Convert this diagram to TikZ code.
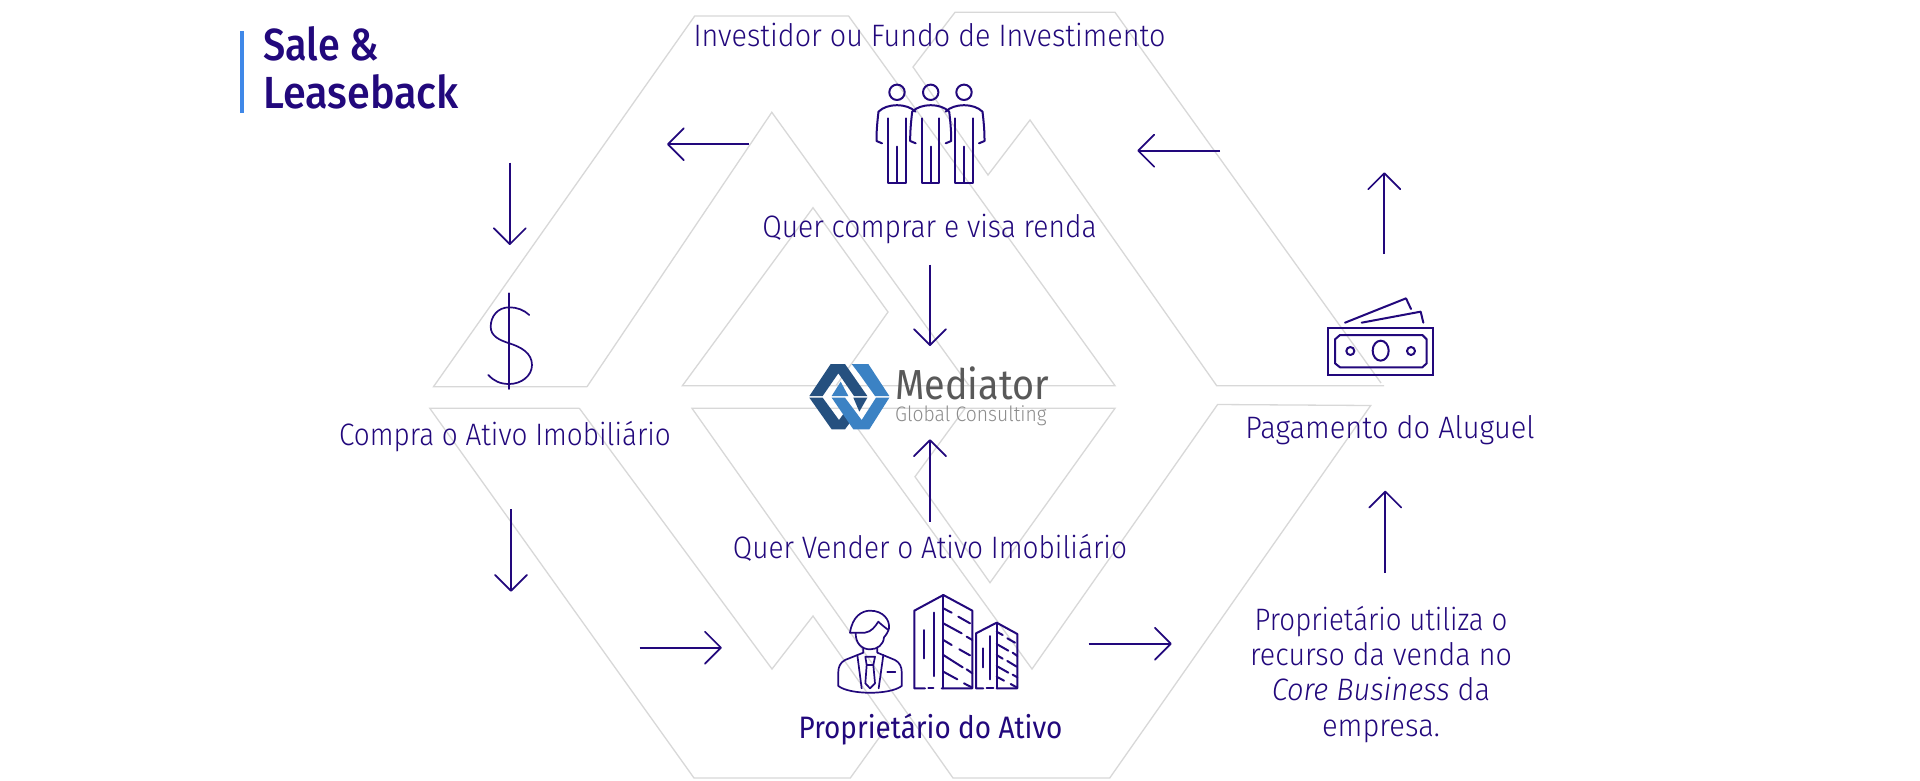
\documentclass[tikz,border=0pt]{standalone}
\usepackage{fontspec}
\usepackage{graphicx}
\usetikzlibrary{arrows.meta}
\setmainfont{Fira Sans Light}[ItalicFont={Fira Sans Light Italic}]
\newfontfamily\titlefont{Fira Sans Medium}
\newfontfamily\ownerfont{Fira Sans}
\newfontfamily\logofont{Fira Sans}
\newfontfamily\logolight{Fira Sans Light}
\newcommand{\sx}[2]{\scalebox{#1}[1]{#2}}
\definecolor{indigo}{HTML}{22087C}
\definecolor{gridgrey}{HTML}{D8D8D8}
\definecolor{barblue}{HTML}{3F88E8}
\definecolor{logodark}{HTML}{25507F}
\definecolor{logolightc}{HTML}{3B82C4}
\tikzset{
  bgline/.style={draw=gridgrey,line width=1.3pt,line join=miter},
  flow/.style={draw=indigo,line width=1.7pt,-{Straight Barb[length=16pt,width=32pt,line width=1.7pt,round]}},
  label/.style={text=indigo,anchor=base,inner sep=0pt,font=\fontsize{31}{34}\selectfont},
  icon/.style={draw=indigo,line width=2pt,line cap=round,line join=round},
  zoomed/.style={x=0.33333pt,y=-0.33333pt},
}
% #1 centre x, #2 draw left arm (1/0), #3 draw right arm (1/0)
\newcommand{\personicon}[3]{%
  \begin{scope}[shift={(#1,0)}]
    \draw[icon] (0,92.3) circle (7.7);
    \draw[icon] (-18.5,111.7) .. controls (-10,103) and (10,103) .. (18.5,111.7);
    \ifnum#2=1
      \draw[icon] (-18.5,111.7) .. controls (-19.5,120) and (-20.5,130) .. (-20.5,139) -- (-20.5,141) -- (-15,143.3);
    \fi
    \ifnum#3=1
      \draw[icon] (18.5,111.7) .. controls (19.5,120) and (20.5,130) .. (20.5,139) -- (20.5,141) -- (15,143.3);
    \fi
    \draw[icon] (-8.7,118.3) -- (-8.7,182.7) -- (8.7,182.7) -- (8.7,118.3);
    \draw[icon] (0,146.7) -- (0,182.7);
  \end{scope}}
\begin{document}
\begin{tikzpicture}[x=1pt,y=-1pt]
\useasboundingbox (0,0) rectangle (1920,780);
\fill[white] (0,0) rectangle (1920,780);

% background chevrons
\draw[bgline] (587,386.7) -- (433.5,386.7) -- (694.7,16) -- (848.6,16) -- (1115,385.7) -- (682.4,385.7) -- (813,207.7) -- (888,312) -- (836,385.7);
\draw[bgline] (587,386.7) -- (771.8,112.3) -- (969,385.7);
\draw[bgline] (1384,385.7) -- (1216.7,385.7) -- (1030,120) -- (988,175) -- (913,67) -- (955,12.3) -- (1115,12.3) -- (1381,383);
\draw[bgline] (579.4,408.3) -- (429.8,408.3) -- (694,778) -- (850.3,778) -- (889,724) -- (813,616) -- (772,669) -- (579.4,408.3);
\draw[bgline] (843,408.3) -- (1032,669) -- (1217.6,404.5) -- (1370.7,405.5) -- (1109.7,778) -- (953,778) -- (692,408.3) -- (1115,408.3) -- (990,582.7) -- (915,476.7) -- (965,408.3);

% title
\fill[barblue] (240.4,30.7) rectangle (243.7,112.7);
\node[label,anchor=base west,font=\titlefont\fontsize{45}{48}\selectfont] (title1) at (263,60) {\sx{0.88}{Sale \&}};
\node[label,anchor=base west,font=\titlefont\fontsize{45}{48}\selectfont] (title2) at (263,108) {\sx{0.92}{Leaseback}};

% labels
\node[label] (investor) at (929.5,46.7) {\sx{0.927}{Investidor ou Fundo de Investimento}};
\node[label] (wants)    at (929.5,237) {\sx{0.91}{Quer comprar e visa renda}};
\node[label] (buys)     at (505,445) {\sx{0.90}{Compra o Ativo Imobiliário}};
\node[label] (sells)    at (930,558) {\sx{0.903}{Quer Vender o Ativo Imobiliário}};
\node[label,font=\ownerfont\fontsize{31}{34}\selectfont] (owner) at (930.5,738) {\sx{0.90}{Proprietário do Ativo}};
\node[label] (rent)     at (1390,438) {\sx{0.936}{Pagamento do Aluguel}};
\node[label] (use1)     at (1381,630.7) {\sx{0.893}{Proprietário utiliza o}};
\node[label] (use2)     at (1381,665.7) {\sx{0.925}{recurso da venda no}};
\node[label] (use3)     at (1381,700.7) {\sx{0.936}{\textit{Core Business} da}};
\node[label] (use4)     at (1381,736) {\sx{0.94}{empresa.}};

% arrows
\coordinate (a1s) at (748.6,144.3); \coordinate (a1e) at (667,144.3);
\coordinate (a2s) at (509.8,162.7); \coordinate (a2e) at (509.8,245);
\coordinate (a3s) at (1220,150.7);  \coordinate (a3e) at (1137.3,150.7);
\coordinate (a4s) at (1384.3,254);  \coordinate (a4e) at (1384.3,172.3);
\coordinate (a5s) at (930,264.5);   \coordinate (a5e) at (930,346);
\coordinate (a6s) at (930,521.7);   \coordinate (a6e) at (930,439.3);
\coordinate (a7s) at (511,509.3);   \coordinate (a7e) at (511,591.7);
\coordinate (a8s) at (639.6,647.7); \coordinate (a8e) at (721.8,647.7);
\coordinate (a9s) at (1088.7,643.7);\coordinate (a9e) at (1171.7,643.7);
\coordinate (a10s) at (1385.3,573); \coordinate (a10e) at (1385.3,490.7);
\foreach \k in {1,...,10} \draw[flow] (a\k s) -- (a\k e);

% dollar
\draw[icon,line width=1.7pt] (509.3,293.3) -- (509.3,389);
\draw[icon,line width=1.7pt] (529.3,315) .. controls (524,310) and (517,307.3) .. (509.3,307.3)
  .. controls (498,307.3) and (490.7,316) .. (490.7,326.7)
  .. controls (490.7,336) and (499,340) .. (509.3,343.3)
  .. controls (521,347) and (532,353) .. (532,365)
  .. controls (532,376) and (521,384) .. (509.3,384)
  .. controls (500,384) and (494,381) .. (488.3,375);

% investors
\personicon{897}{1}{0}\personicon{930.7}{1}{1}\personicon{964}{0}{1}

% cash
\begin{scope}[shift={(1300,280)},zoomed]
  \draw[icon,line cap=butt,line join=miter] (85,143) rectangle (400,285);
  \draw[icon] (120,165) -- (367,165) -- (380,178) -- (380,250) -- (367,262) -- (120,262) -- (105,250) -- (105,178) -- cycle;
  \draw[icon] (242,212) ellipse [x radius=24,y radius=30];
  \draw[icon] (151,213) circle [radius=12];
  \draw[icon] (333,213) circle [radius=12];
  \draw[icon] (135,128) -- (318,55) -- (333,87);
  \draw[icon] (185,128) -- (362,95) -- (370,128);
\end{scope}

% logo
\begin{scope}[shift={(790,340)},zoomed]
  \fill[logodark] (58,168) -- (122,72) -- (165,72) -- (232,168) -- (192,168) -- (145,100) -- (98,168) -- cycle;
  \fill[logodark] (58,173) -- (125,268) -- (165,268) -- (182,245) -- (160,222) -- (147,240) -- (98,173) -- cycle;
  \fill[logolightc] (185,72) -- (235,72) -- (298,168) -- (255,168) -- (208,102) -- cycle;
  \fill[logolightc] (125,173) -- (165,173) -- (215,240) -- (258,173) -- (298,173) -- (238,268) -- (190,268) -- cycle;
  \fill[logolightc] (125,168) -- (152,125) -- (175,168) -- cycle;
  \fill[logodark] (190,173) -- (232,173) -- (208,215) -- cycle;
\end{scope}
\node[anchor=base west,inner sep=0pt,text=black!65,font=\logofont\fontsize{42}{44}\selectfont] (mediator) at (895,399.3) {\sx{0.90}{Mediator}};
\node[anchor=base west,inner sep=0pt,text=black!45,font=\logolight\fontsize{21}{24}\selectfont] (global) at (895,421) {\sx{0.92}{Global Consulting}};

% owner + buildings
\begin{scope}[shift={(820,580)},zoomed]
  \draw[icon,line width=1.7pt] (90,158) .. controls (97,110) and (125,92) .. (150,92) .. controls (190,92) and (210,120) .. (207,145) .. controls (205,155) and (198,165) .. (192,172);
  \draw[icon,line width=1.7pt] (90,158) -- (135,158) .. controls (155,155) and (165,140) .. (175,125) .. controls (185,135) and (195,142) .. (205,150);
  \draw[icon,line width=1.7pt] (107,160) .. controls (107,190) and (125,208) .. (150,208) .. controls (172,208) and (190,195) .. (192,172);
  \draw[icon,line width=1.7pt] (130,203) -- (130,218) -- (75,240) .. controls (60,248) and (55,262) .. (55,275) -- (55,318) .. controls (90,345) and (210,345) .. (245,318) -- (245,275) .. controls (245,262) and (240,248) .. (225,240) -- (172,218) -- (172,203);
  \draw[icon,line width=1.7pt] (112,225) -- (125,325);
  \draw[icon,line width=1.7pt] (190,225) -- (176,325);
  \draw[icon,line width=1.7pt] (136,230) -- (165,230) -- (160,255) -- (140,255) -- cycle;
  \draw[icon,line width=1.7pt] (140,255) -- (136,310) -- (150,325) -- (165,310) -- (160,255);
  \draw[icon,line width=1.7pt] (202,275) -- (226,275);
  % large building
  \draw[icon] (315,325) -- (283,325) -- (283,92) -- (370,45) -- (457,92) -- (457,325) -- (365,325);
  \draw[icon] (325,325) -- (340,325);
  \draw[icon] (370,45) -- (370,325);
  \draw[icon] (313,150) -- (313,235);
  \draw[icon] (342,98) -- (342,288);
  \draw[icon] (370,85) -- (395,98) (415,110) -- (450,130);
  \draw[icon] (370,130) -- (425,160) (440,170) -- (457,180);
  \draw[icon] (370,180) -- (395,195) (418,208) -- (450,226);
  \draw[icon] (370,225) -- (428,262) (440,268) -- (457,280);
  \draw[icon] (370,275) -- (412,298) (432,310) -- (455,322);
  % small building
  \draw[icon] (490,325) -- (468,325) -- (468,160) -- (530,128) -- (592,162) -- (592,325) -- (530,325);
  \draw[icon] (500,325) -- (520,325);
  \draw[icon] (530,128) -- (530,325);
  \draw[icon] (490,205) -- (490,262);
  \draw[icon] (510,168) -- (510,298);
  \draw[icon] (530,155) -- (548,165) (562,175) -- (585,188);
  \draw[icon] (530,192) -- (565,212) (578,218) -- (592,228);
  \draw[icon] (530,225) -- (548,236) (562,243) -- (590,260);
  \draw[icon] (530,258) -- (565,278) (578,284) -- (592,292);
  \draw[icon] (530,290) -- (552,302) (572,312) -- (590,322);
\end{scope}
\end{tikzpicture}
\end{document}
